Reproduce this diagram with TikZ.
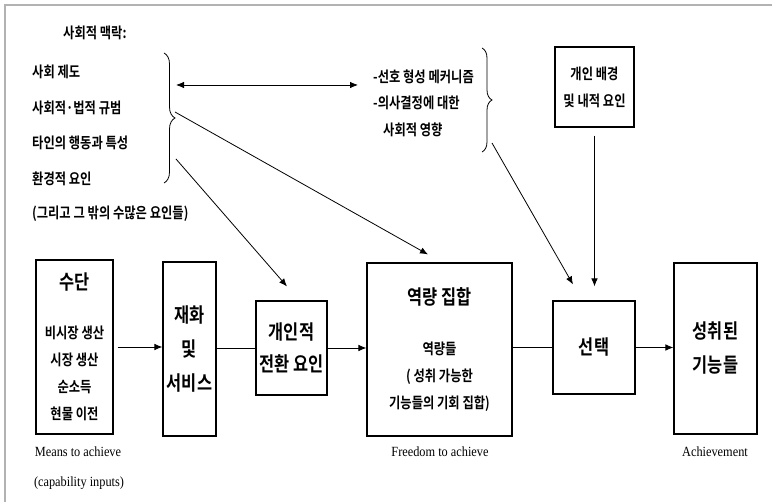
\documentclass[tikz,border=0pt]{standalone}
\usepackage{fontspec}
\setmainfont{Liberation Serif}[FakeStretch=0.88]
\newfontfamily\kr{Noto Sans CJK KR}[BoldFont={Noto Sans CJK KR Bold}, FakeStretch=0.82]
\usetikzlibrary{arrows.meta, positioning, calc, decorations.pathreplacing}

\begin{document}
\begin{tikzpicture}[x=1pt, y=-1pt,
    box/.style={rectangle, draw, line width=1.1pt, align=center, inner sep=0pt},
    arrow/.style={->, >={Latex[length=8pt,width=6.5pt]}, line width=0.8pt},
    link/.style={line width=0.8pt},
    brace/.style={decorate, decoration={brace, amplitude=#1}, line width=0.8pt},
    kor/.style={font=\kr\bfseries\fontsize{15}{27}\selectfont, align=left},
    big/.style={font=\kr\bfseries\fontsize{20}{#1}\selectfont},
    eng/.style={font=\fontsize{14}{16}\selectfont, inner sep=0pt}
]
\useasboundingbox (0,0) rectangle (772,502);
\draw[gray!60, line width=1.5pt] (772,5) -- (5,5) -- (5,502);

% main row
\node[box, kor, align=center, minimum width=77pt, minimum height=174pt] (means) at (74.5,347)
    {{\fontsize{20}{27}\selectfont 수단}\\[22pt]비시장 생산\\시장 생산\\순소득\\현물 이전};
\node[box, big=34, minimum width=53pt, minimum height=174pt] (goods) at (189.5,349) {재화\\및\\서비스};
\node[box, big=32, minimum width=71pt, minimum height=94pt] (conv) at (291.5,348) {개인적\\전환 요인};
\node[box, kor, align=center, minimum width=145pt, minimum height=173pt] (cap) at (439.5,349.5)
    {{\fontsize{20}{27}\selectfont 역량 집합}\\[22.5pt]역량들\\( 성취 가능한\\기능들의 기회 집합)};
\node[box, big=34, minimum width=82pt, minimum height=93pt] (choice) at (594,347.5) {선택};
\node[box, big=34, minimum width=83pt, minimum height=171pt] (ach) at (715.5,348.5) {성취된\\기능들};
\node[box, kor, align=center, minimum width=79pt, minimum height=80pt] (bg) at (594.5,87) {개인 배경\\및 내적 요인};

\draw[arrow, shorten <=4pt] (means.east) -- (means.east -| goods.west);
\draw[link] (goods.east |- conv.west) -- (conv.west);
\draw[arrow] (conv.east) -- (conv.east -| cap.west);
\draw[link] (cap.east |- choice.west) -- (choice.west);
\draw[arrow] (choice.east) -- (choice.east -| ach.west);
\draw[arrow, shorten <=8pt, shorten >=14pt] (bg.south) -- (bg.south |- choice.north);

% social context
\node[kor, anchor=west, inner sep=0pt] (ctxT) at (63,33) {사회적 맥락:};
\foreach \t [count=\i] in {사회 제도, 사회적·법적 규범, 타인의 행동과 특성, 환경적 요인, (그리고 그 밖의 수많은 요인들)}
    \node[kor, anchor=west, inner sep=0pt] (ctx\i) at (32,{72+35.5*(\i-1)}) {\t};
\draw[brace=11] (164,53) -- (164,183);

\node[kor, anchor=west, inner sep=0pt] (pref1) at (373,77) {-선호 형성 메커니즘};
\node[kor, anchor=west, inner sep=0pt] (pref2) at (373,103) {-의사결정에 대한};
\node[kor, anchor=west, inner sep=0pt] (pref3) at (383,130) {사회적 영향};
\draw[brace=10] (482,48) -- (482,152);

\coordinate (ctxA) at (176,85);
\coordinate (ctxB) at (175,112);
\coordinate (ctxC) at (176,159);
\coordinate (prefA) at (358,85);
\coordinate (prefB) at (492,143);

\draw[arrow, <->] (ctxA) -- (prefA);
\draw[arrow] (ctxB) -- ([xshift=-11.5pt, yshift=8pt]cap.north);
\draw[arrow] (ctxC) -- ([xshift=-4.5pt, yshift=14pt]conv.north);
\draw[arrow] (prefB) -- ([xshift=-21pt, yshift=16pt]choice.north);

% captions
\node[eng] (meansL) at (78,452) {Means to achieve};
\node[eng] (meansL2) at (79,483) {(capability inputs)};
\node[eng] (capL) at (440,452) {Freedom to achieve};
\node[eng] (achL) at (715,452) {Achievement};
\end{tikzpicture}
\end{document}
